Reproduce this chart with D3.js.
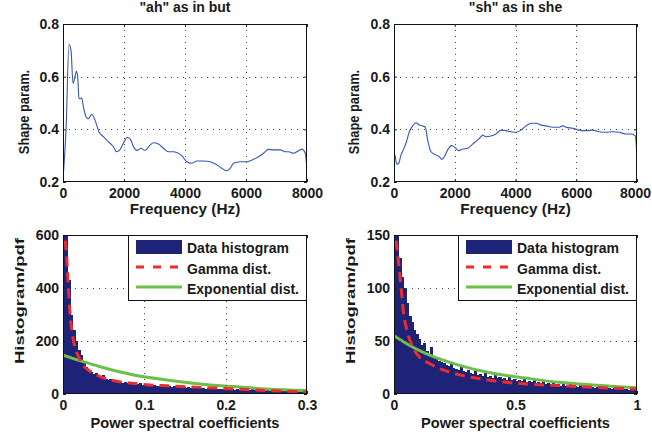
<!DOCTYPE html>
<html><head><meta charset="utf-8">
<script src="https://cdn.jsdelivr.net/npm/d3@7"></script>
<style>
html,body{margin:0;padding:0;background:#fff;}
text{font-family:"Liberation Sans",Arial,sans-serif;font-weight:bold;fill:#1a1a1a;}
</style></head>
<body>
<svg id="c" width="652" height="439"></svg>
<script>
// ---------- data ----------
const titles = ['"ah" as in but', '"sh" as in she'];
const freqTicks = [0, 2000, 4000, 6000, 8000];
const shapeTicks = [0.2, 0.4, 0.6, 0.8];

const ahFreq = [0,100,197,263,328,394,438,481,525,570,612,667,755,831,941,1050,1182,1324,1488,1652,1761,1850,1980,2112,2221,2308,2440,2549,2691,2855,2965,3129,3293,3457,3621,3731,3895,4059,4223,4387,4606,4825,5043,5208,5350,5481,5591,5810,6028,6247,6411,6575,6739,6904,7122,7286,7396,7560,7724,7833,7943,8000];
const ahShape = [0.21,0.40,0.723,0.70,0.575,0.60,0.62,0.60,0.518,0.516,0.52,0.486,0.448,0.44,0.457,0.435,0.39,0.372,0.353,0.334,0.315,0.32,0.347,0.37,0.36,0.334,0.32,0.328,0.32,0.34,0.349,0.344,0.328,0.315,0.315,0.312,0.30,0.277,0.271,0.28,0.28,0.277,0.265,0.252,0.243,0.252,0.271,0.277,0.277,0.286,0.296,0.309,0.324,0.322,0.322,0.315,0.315,0.309,0.319,0.325,0.309,0.245];

const shFreq = [0,44,88,154,230,307,395,505,614,724,834,944,1031,1108,1218,1382,1492,1580,1657,1767,1910,2019,2129,2261,2425,2590,2754,2864,2919,3029,3193,3358,3523,3688,3852,4017,4181,4346,4511,4675,4840,5005,5224,5443,5553,5663,5882,6102,6322,6541,6760,6980,7199,7418,7638,7802,7945,8000];
const shShape = [0.309,0.296,0.268,0.271,0.303,0.322,0.347,0.391,0.413,0.425,0.416,0.413,0.408,0.36,0.315,0.303,0.296,0.286,0.296,0.322,0.338,0.33,0.319,0.325,0.328,0.344,0.36,0.372,0.378,0.372,0.375,0.382,0.397,0.395,0.391,0.389,0.397,0.413,0.423,0.423,0.416,0.413,0.408,0.408,0.413,0.408,0.404,0.397,0.395,0.397,0.391,0.389,0.391,0.389,0.382,0.382,0.375,0.283];

// bottom-left: histogram (bin width 0.003 over 0..0.3)
const histLeftTicksX = [0, 0.1, 0.2, 0.3];
const histLeftTicksY = [0, 200, 400, 600];
const histLeftBinWidth = 0.003;
const histLeft = [780,640,430,300,240,200,165,148,125,102,90,82,75,78,64,60,70,56,52,58,48,46,50,44,42,45,40,38,42,37,36,40,35,34,37,33,32,35,31,30,33,29,28,31,27,29,26,27,25,28,24,25,23,26,22,24,21,23,20,22,20,19,21,18,20,17,19,18,17,19,16,17,16,18,15,16,15,17,14,15,14,16,13,14,13,15,12,13,12,14,12,11,13,11,12,10,11,10,12,10];
const gammaLeftX = [0.0012,0.0025,0.0045,0.0066,0.0086,0.0127,0.021,0.033,0.0456,0.066,0.087,0.107,0.128,0.169,0.21,0.25,0.3];
const gammaLeftY = [700,600,520,400,305,206,129,86,66,48,40,34,31,25,19,13,8];
const expLeftX = [0,0.025,0.0456,0.087,0.128,0.169,0.21,0.25,0.3];
const expLeftY = [147,122,103,72,53,38,28,19,13];

// bottom-right: histogram (bin width 0.01 over 0..1)
const histRightTicksX = [0, 0.5, 1];
const histRightTicksY = [0, 50, 100, 150];
const histRightBinWidth = 0.01;
const histRight = [260,175,128,110,100,86,74,68,60,57,52,46,48,41,38,44,35,33,31,30,29,27,26,28,25,24,23,26,22,21,23,20,19,22,18,19,17,20,16,17,15,18,15,16,14,15,13,16,13,14,12,13,12,14,11,12,11,13,10,11,10,12,9,10,9,11,9,9,8,10,8,8,9,7,8,7,9,7,7,8,6,7,6,7,6,6,7,5,6,5,6,5,5,6,5,5,4,5,4,4];
const gammaRightX = [0.004,0.008,0.015,0.029,0.038,0.049,0.07,0.104,0.145,0.2,0.27,0.337,0.406,0.543,0.68,0.818,1.0];
const gammaRightY = [175,149,133,101,79,64,48,35,29,23,18,15,12.6,9.5,7.9,6.3,4.7];
const expRightX = [0,0.063,0.132,0.269,0.406,0.543,0.68,0.818,1.0];
const expRightY = [55,46,38,27,19.5,15,11,8.5,6];

const legendLabels = ["Data histogram", "Gamma dist.", "Exponential dist."];

// ---------- styles ----------
const BLUE = "#3457b5", NAVY = "#1f2378", RED = "#ee2b2b", GREEN = "#6cc04a";
const svg = d3.select("#c");

function panel(box, xDom, yDom, xTicks, yTicks, xFmt, yFmt, xLabel, yLabel, opt, id) {
  const x = d3.scaleLinear().domain(xDom).range([box.l, box.r]);
  const y = d3.scaleLinear().domain(yDom).range([box.b, box.t]);
  svg.append("clipPath").attr("id", id).append("rect")
    .attr("x", box.l).attr("y", box.t).attr("width", box.r - box.l).attr("height", box.b - box.t);
  const g = svg.append("g");
  const data = g.append("g").attr("clip-path", `url(#${id})`);
  // grid
  const grid = g.append("g").attr("stroke", "#444").attr("stroke-width", 1).attr("stroke-dasharray", "1,5");
  xTicks.slice(1, -1).forEach(v => grid.append("line").attr("x1", Math.round(x(v)) + 0.5).attr("x2", Math.round(x(v)) + 0.5).attr("y1", box.t).attr("y2", box.b));
  yTicks.slice(1, -1).forEach(v => grid.append("line").attr("y1", Math.round(y(v)) + 0.5).attr("y2", Math.round(y(v)) + 0.5).attr("x1", box.l).attr("x2", box.r));
  // axes (ticks inside)
  const ax = d3.axisBottom(x).tickValues(xTicks).tickFormat(xFmt).tickSizeInner(-3).tickSizeOuter(0).tickPadding(6);
  const ay = d3.axisLeft(y).tickValues(yTicks).tickFormat(yFmt).tickSizeInner(-3).tickSizeOuter(0).tickPadding(4);
  const axT = d3.axisTop(x).tickValues(xTicks).tickFormat("").tickSizeInner(-3).tickSizeOuter(0);
  const ayR = d3.axisRight(y).tickValues(yTicks).tickFormat("").tickSizeInner(-3).tickSizeOuter(0);
  const gx = g.append("g").attr("transform", `translate(0,${box.b})`).call(ax);
  g.append("g").attr("transform", `translate(${box.l},0)`).call(ay);
  g.append("g").attr("transform", `translate(0,${box.t})`).call(axT);
  g.append("g").attr("transform", `translate(${box.r},0)`).call(ayR);
  g.selectAll(".domain").remove();
  g.selectAll(".tick line").attr("stroke", "#222");
  g.selectAll(".tick text").style("font-size", "14px").style("font-weight", "bold").attr("fill", "#1a1a1a");
  if (opt.lastDx) gx.selectAll(".tick:last-of-type text").attr("dx", opt.lastDx);
  g.append("rect").attr("x", box.l + 0.5).attr("y", box.t + 0.5).attr("width", box.r - box.l - 1).attr("height", box.b - box.t - 1)
    .attr("fill", "none").attr("stroke", "#111").attr("stroke-width", 1);
  g.append("text").attr("x", (box.l + box.r) / 2).attr("y", box.b + opt.xlabDy).attr("text-anchor", "middle").style("font-size", opt.xlabSize + "px").text(xLabel);
  g.append("text").attr("transform", `translate(${opt.ylabX},${opt.ylabY}) rotate(-90) scale(${opt.ylabSx},${opt.ylabSy})`).attr("text-anchor", "middle").style("font-size", "14px").text(yLabel);
  return {x, y, g, data};
}

const fmtHz = d3.format("d");
const fmtS = d3.format(".1f");
const fmtG = v => (v === 0 ? "0" : String(v));

const boxes = [
  {l: 63, r: 307, t: 24, b: 182},
  {l: 394, r: 637, t: 24, b: 182},
  {l: 63, r: 307, t: 235, b: 394},
  {l: 394, r: 637, t: 235, b: 394}
];

[[ahFreq, ahShape], [shFreq, shShape]].forEach(([fx, fy], i) => {
  const p = panel(boxes[i], [0, 8000], [0.2, 0.8], freqTicks, shapeTicks, fmtHz, fmtS, "Frequency (Hz)", "Shape param.",
    {xlabDy: 32, xlabSize: 15.3, ylabX: i === 0 ? 29 : 359, ylabY: 112, ylabSx: 0.92, ylabSy: 1.05, lastDx: i === 1 ? -2 : 0}, "clipT" + i);
  const line = d3.line().x(d => p.x(d[0])).y(d => p.y(d[1])).curve(d3.curveMonotoneX);
  p.data.append("path").datum(fx.map((v, k) => [v, fy[k]])).attr("d", line)
    .attr("fill", "none").attr("stroke", BLUE).attr("stroke-width", 1.1);
  svg.append("text").attr("x", (boxes[i].l + boxes[i].r) / 2).attr("y", 12).attr("text-anchor", "middle").style("font-size", "14px").text(titles[i]);
});

const hists = [
  {hist: histLeft, bw: histLeftBinWidth, xd: [0, 0.3], yd: [0, 600], xt: histLeftTicksX, yt: histLeftTicksY, gx: gammaLeftX, gy: gammaLeftY, ex: expLeftX, ey: expLeftY, ylx: 24},
  {hist: histRight, bw: histRightBinWidth, xd: [0, 1], yd: [0, 150], xt: histRightTicksX, yt: histRightTicksY, gx: gammaRightX, gy: gammaRightY, ex: expRightX, ey: expRightY, ylx: 355}
];
hists.forEach((h, i) => {
  const box = boxes[2 + i];
  const p = panel(box, h.xd, h.yd, h.xt, h.yt, fmtG, fmtG, "Power spectral coefficients", "Histogram/pdf",
    {xlabDy: 34, xlabSize: 14.6, ylabX: h.ylx, ylabY: 301, ylabSx: 1.33, ylabSy: 0.95}, "clipB" + i);
  p.data.selectAll("rect.bar").data(h.hist).enter().append("rect").attr("class", "bar")
    .attr("x", (d, k) => p.x(k * h.bw))
    .attr("width", (d, k) => p.x((k + 1) * h.bw) - p.x(k * h.bw) + 0.6)
    .attr("y", d => p.y(d)).attr("height", d => p.y(0) - p.y(d))
    .attr("fill", NAVY).attr("shape-rendering", "crispEdges");
  const line = d3.line().x(d => p.x(d[0])).y(d => p.y(d[1])).curve(d3.curveMonotoneX);
  p.data.append("path").datum(h.ex.map((v, k) => [v, h.ey[k]])).attr("d", line)
    .attr("fill", "none").attr("stroke", GREEN).attr("stroke-width", 3);
  p.data.append("path").datum(h.gx.map((v, k) => [v, h.gy[k]])).attr("d", line)
    .attr("fill", "none").attr("stroke", RED).attr("stroke-width", 3).attr("stroke-dasharray", "10,6");
  // legend
  const lx = box.r - 179, ly = box.t;
  const lg = svg.append("g");
  lg.append("rect").attr("x", lx + 0.5).attr("y", ly + 0.5).attr("width", 178).attr("height", 65)
    .attr("fill", "#fff").attr("stroke", "#111").attr("stroke-width", 1);
  lg.append("rect").attr("x", lx + 8).attr("y", ly + 5).attr("width", 46).attr("height", 14).attr("fill", NAVY);
  lg.append("line").attr("x1", lx + 8).attr("x2", lx + 54).attr("y1", ly + 32).attr("y2", ly + 32)
    .attr("stroke", RED).attr("stroke-width", 3).attr("stroke-dasharray", "8,9");
  lg.append("line").attr("x1", lx + 8).attr("x2", lx + 54).attr("y1", ly + 52).attr("y2", ly + 52)
    .attr("stroke", GREEN).attr("stroke-width", 3);
  legendLabels.forEach((t, k) => lg.append("text").attr("x", lx + 59).attr("y", ly + 18 + k * 20.5).style("font-size", "14px").text(t));
});
</script>
</body></html>
